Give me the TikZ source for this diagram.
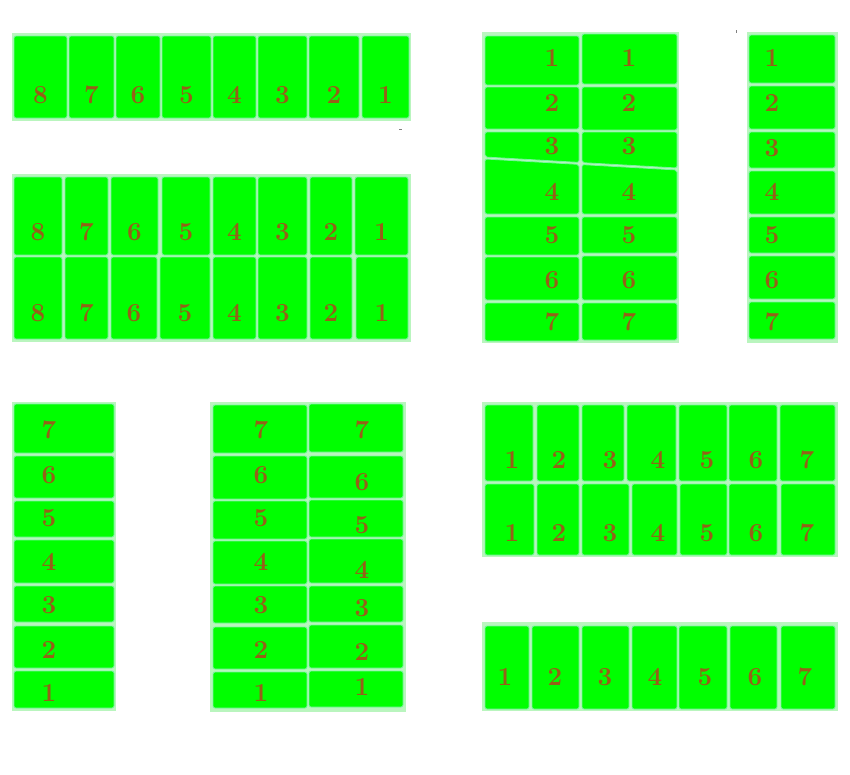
\documentclass[tikz,border=0pt]{standalone}
\usetikzlibrary{calc}
\definecolor{cellgreen}{RGB}{0,255,0}
\definecolor{cellrim}{RGB}{120,245,160}
\definecolor{panelrim}{RGB}{185,245,190}
\definecolor{digit}{RGB}{150,95,25}
\tikzset{
  panel/.style={fill=panelrim, draw=none},
  cellbox/.style={fill=cellgreen, draw=cellrim, line width=0.8pt, rounded corners=2pt},
  num/.style={inner sep=0pt, text=digit, font=\fontsize{26}{26}\selectfont\bfseries},
  tick/.style={draw=gray, line width=0.8pt}
}
\begin{document}
\begin{tikzpicture}[x=1pt,y=-1pt]
\useasboundingbox (0,0) rectangle (850,774);
\fill[white] (0,0) rectangle (850,774);

% ---------- panel 1: single row 8..1 ----------
\path[panel] (12,33) rectangle (411,121);
\foreach \xa/\xb/\n [count=\i] in {14/67/8,69/114/7,116/160/6,162/211/5,213/256/4,258/307/3,309/359/2,362/409/1}{
  \path[cellbox] (\xa,36) rectangle (\xb,118);
  \node[num] (pa\i) at ({(\xa+\xb)/2},95) {\n};
}
\coordinate (tickA) at (399,129);
\draw[tick] (tickA) -- ++(3,0);

% ---------- panel 2: two rows 8..1 ----------
\path[panel] (12,174) rectangle (411,342);
\foreach \xa/\xb/\n [count=\i] in {14/62/8,65/108/7,111/158/6,162/210/5,213/256/4,258/307/3,310/352/2,355/408/1}{
  \path[cellbox] (\xa,177) rectangle (\xb,255);
  \node[num] (pb\i) at ({(\xa+\xb)/2},232) {\n};
}
\foreach \xa/\xb/\n [count=\i] in {14/62/8,65/108/7,111/157/6,160/210/5,213/256/4,258/307/3,310/352/2,356/408/1}{
  \path[cellbox] (\xa,257) rectangle (\xb,339);
  \node[num] (pc\i) at ({(\xa+\xb)/2},313) {\n};
}

% ---------- panel 3: two columns 1..7 with slanted seam ----------
\path[panel] (482,32) rectangle (679,343);
% column 1
\path[cellbox] (485,36) rectangle (579,85);
\path[cellbox] (485,87) rectangle (579,129);
\path[cellbox] (485,132) -- (579,132) -- (579,162.4) -- (485,157) -- cycle;
\path[cellbox] (485,159) -- (579,164.4) -- (579,214) -- (485,214) -- cycle;
\path[cellbox] (485,217) rectangle (579,255);
\path[cellbox] (485,257) rectangle (579,300);
\path[cellbox] (485,303) rectangle (579,341);
% column 2
\path[cellbox] (582,34) rectangle (677,84);
\path[cellbox] (582,87) rectangle (677,130);
\path[cellbox] (582,132) -- (677,132) -- (677,168) -- (582,162.6) -- cycle;
\path[cellbox] (582,164.6) -- (677,170) -- (677,214) -- (582,214) -- cycle;
\path[cellbox] (582,217) rectangle (677,253);
\path[cellbox] (582,256) rectangle (677,300);
\path[cellbox] (582,303) rectangle (677,340);
\foreach \y/\n in {58/1,103/2,146/3,192/4,235/5,280/6,322/7}{
  \node[num] (pd\n) at (552,\y) {\n};
  \node[num] (pe\n) at (629,\y) {\n};
}
\coordinate (tickB) at (736,30);
\draw[tick] (tickB) -- ++(0,3);

% ---------- panel 4: single column 1..7 ----------
\path[panel] (747,32) rectangle (838,343);
\foreach \ya/\yb/\ty/\n in {35/83/58/1,86/129/103/2,132/168/148/3,171/214/192/4,217/253/235/5,256/299/280/6,302/339/322/7}{
  \path[cellbox] (749,\ya) rectangle (835,\yb);
  \node[num] (pf\n) at (772,\ty) {\n};
}

% ---------- panel 5: single column 7..1 ----------
\path[panel] (12,402) rectangle (116,711);
\foreach \ya/\yb/\ty/\n in {404/453/430/7,456/498/475/6,501/537/518/5,540/583/562/4,586/622/605/3,626/668/650/2,671/708/693/1}{
  \path[cellbox] (14,\ya) rectangle (114,\yb);
  \node[num] (pg\n) at (49,\ty) {\n};
}

% ---------- panel 6: two columns 7..1 ----------
\path[panel] (210,402) rectangle (406,712);
\foreach \ya/\yb/\ty/\n in {405/453/430/7,456/499/475/6,501/539/518/5,541/584/562/4,586/623/605/3,627/669/650/2,672/708/693/1}{
  \path[cellbox] (213,\ya) rectangle (307,\yb);
  \node[num] (ph\n) at (261,\ty) {\n};
}
\foreach \ya/\yb/\ty/\n in {404/452/430/7,456/498/482/6,500/537/525/5,539/583/570/4,586/622/608/3,625/668/652/2,671/707/687/1}{
  \path[cellbox] (309,\ya) rectangle (403,\yb);
  \node[num] (pi\n) at (362,\ty) {\n};
}

% ---------- panel 7: two rows 1..7 ----------
\path[panel] (482,402) rectangle (838,557);
\foreach \xa/\xb/\tx/\n in {485/533/512/1,537/579/559/2,582/624/610/3,627/676/658/4,679/727/707/5,729/777/756/6,780/835/807/7}{
  \path[cellbox] (\xa,405) rectangle (\xb,481);
  \node[num] (pj\n) at (\tx,460) {\n};
}
\foreach \xa/\xb/\tx/\n in {485/534/512/1,537/579/559/2,582/629/610/3,632/677/658/4,680/727/707/5,729/777/756/6,781/835/807/7}{
  \path[cellbox] (\xa,484) rectangle (\xb,555);
  \node[num] (pk\n) at (\tx,533) {\n};
}

% ---------- panel 8: single row 1..7 ----------
\path[panel] (482,622) rectangle (838,711);
\foreach \xa/\xb/\tx/\n in {485/529/505/1,532/579/555/2,582/629/605/3,632/677/655/4,679/727/705/5,730/777/755/6,781/835/805/7}{
  \path[cellbox] (\xa,626) rectangle (\xb,709);
  \node[num] (pl\n) at (\tx,677) {\n};
}
\end{tikzpicture}
\end{document}
